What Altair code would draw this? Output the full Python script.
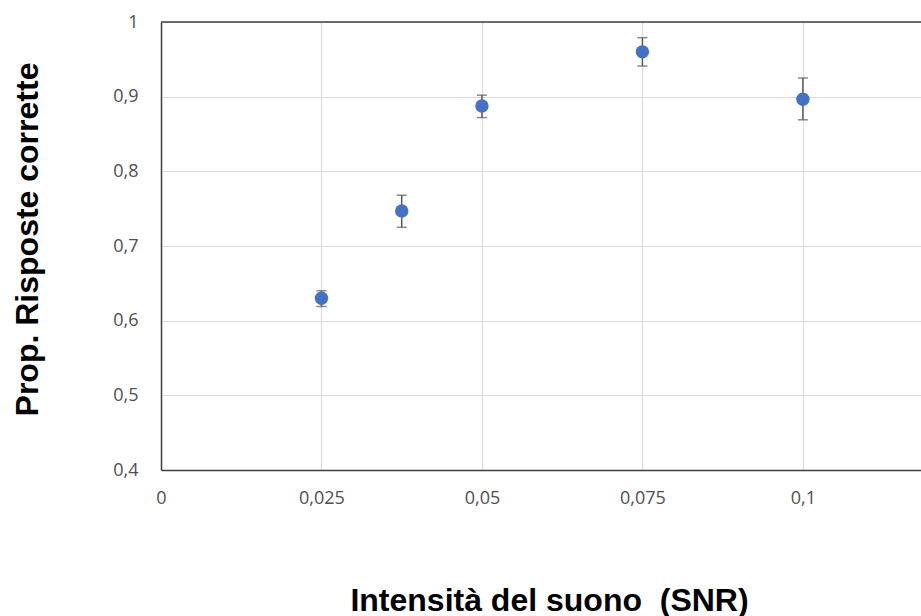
import altair as alt
import pandas as pd

snr = [0.025, 0.0375, 0.05, 0.075, 0.1]
prop = [0.630, 0.747, 0.8875, 0.960, 0.8965]
err_low = [0.619, 0.725, 0.872, 0.941, 0.869]
err_high = [0.640, 0.768, 0.902, 0.979, 0.925]
x_ticks = [0, 0.025, 0.05, 0.075, 0.1]
y_ticks = [0.4, 0.5, 0.6, 0.7, 0.8, 0.9, 1.0]

df = pd.DataFrame({"snr": snr, "prop": prop, "lo": err_low, "hi": err_high})

W, H = 760, 448
label_expr = "replace(toString(datum.value), '.', ',')"

xscale = alt.Scale(domain=[0, 0.1184], nice=False, zero=False)
yscale = alt.Scale(domain=[0.4, 1.0], nice=False, zero=False)

xaxis = alt.Axis(
    values=x_ticks, labelExpr=label_expr, title="Intensità del suono \u00a0(SNR)",
    grid=True, gridColor="#dcdcdc", gridWidth=1.2,
    domainColor="#404040", domainWidth=1.5, ticks=False, labelFlush=False,
    labelFont="Open Sans", labelFontSize=18, labelColor="#505050", labelPadding=19,
    titleFont="Liberation Sans", titleFontSize=32, titleFontWeight="bold", titleColor="#000000",
    titleX=388, titleY=130, titleAlign="center", titleBaseline="middle",
)
yaxis = alt.Axis(
    values=y_ticks, labelExpr=label_expr, title="Prop. Risposte corrette",
    grid=True, gridColor="#dcdcdc", gridWidth=1.2,
    domainColor="#404040", domainWidth=1.5, ticks=False, labelFlush=False,
    labelFont="Open Sans", labelFontSize=18, labelColor="#505050", labelPadding=23,
    titleFont="Liberation Sans", titleFontSize=32, titleFontWeight="bold", titleColor="#000000",
    titleX=-134, titleY=217, titleAngle=-90, titleAlign="center", titleBaseline="middle",
)

base = alt.Chart(df)

pts = base.mark_circle(size=180, color="#4472C4", opacity=1).encode(
    x=alt.X("snr:Q", scale=xscale, axis=xaxis),
    y=alt.Y("prop:Q", scale=yscale, axis=yaxis),
)
bars = base.mark_rule(color="#595959", strokeWidth=1.5).encode(
    x=alt.X("snr:Q", scale=xscale), y=alt.Y("lo:Q", scale=yscale), y2="hi:Q"
)
cap_lo = base.mark_tick(color="#595959", thickness=1.5, size=10, orient="horizontal").encode(
    x=alt.X("snr:Q", scale=xscale), y=alt.Y("lo:Q", scale=yscale)
)
cap_hi = base.mark_tick(color="#595959", thickness=1.5, size=10, orient="horizontal").encode(
    x=alt.X("snr:Q", scale=xscale), y=alt.Y("hi:Q", scale=yscale)
)
top = alt.Chart(pd.DataFrame({"v": [1.0]})).mark_rule(color="#404040", strokeWidth=1.5).encode(
    y=alt.Y("v:Q", scale=yscale), x=alt.value(0), x2=alt.value(W)
)

chart = alt.layer(top, bars, cap_lo, cap_hi, pts).properties(
    width=W, height=H,
    autosize=alt.AutoSizeParams(type="none"),
    padding={"left": 161, "top": 22, "right": 0, "bottom": 146},
    background="white",
).configure_view(stroke=None)

chart.save("out.html", embed_options={"renderer": "svg", "actions": False})
